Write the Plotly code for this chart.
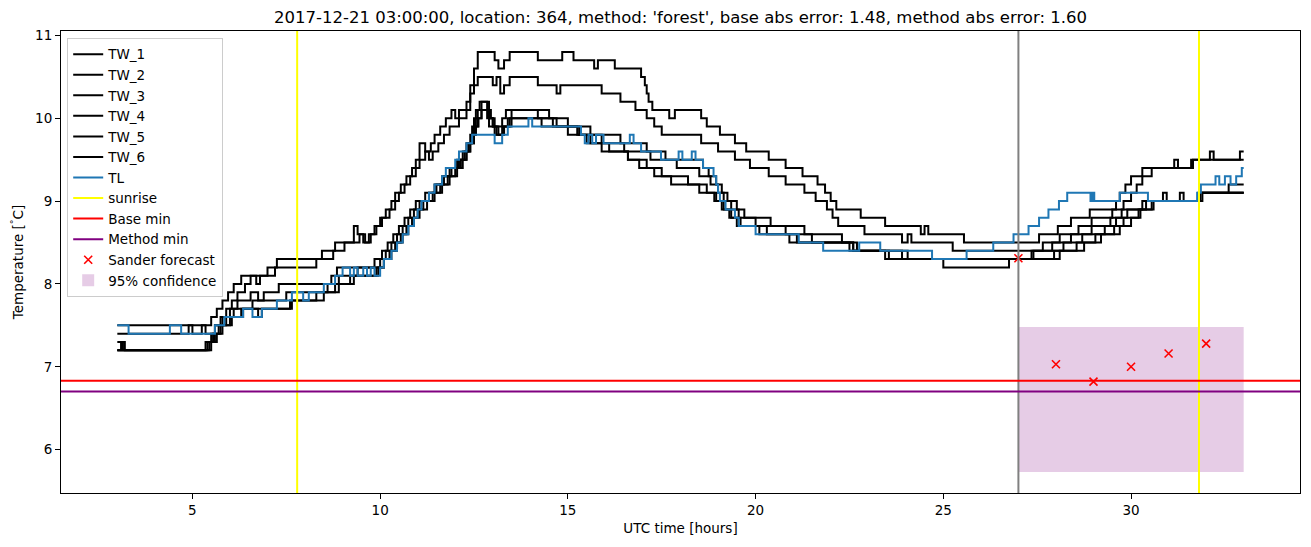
import plotly.graph_objects as go

TITLE = "2017-12-21 03:00:00, location: 364, method: 'forest', base abs error: 1.48, method abs error: 1.60"

# (hour, temperature) change points of each series, drawn as steps
tw_1 = [(3.0,7.5),(5.5,7.6),(5.65,7.7),(5.8,7.8),(5.95,7.9),(6.1,8.0),(6.3,8.1),(6.7,8.0),(6.8,8.1),(7.0,8.2),(7.25,8.3),(8.45,8.4),(8.8,8.5),(9.3,8.7),(9.4,8.6),(9.55,8.5),(9.7,8.6),(9.85,8.7),(10.0,8.8),(10.15,8.9),(10.3,9.0),(10.4,9.1),(10.55,9.2),(10.7,9.3),(10.85,9.4),(10.95,9.5),(11.05,9.7),(11.2,9.6),(11.35,9.7),(11.45,9.8),(11.6,9.9),(11.75,10.0),(11.9,10.1),(12.0,10.0),(12.1,10.1),(12.3,10.2),(12.4,10.4),(12.5,10.6),(12.6,10.8),(13.05,10.7),(13.15,10.6),(13.3,10.7),(13.45,10.8),(14.2,10.7),(14.85,10.8),(15.15,10.7),(15.7,10.6),(15.8,10.7),(16.25,10.6),(16.95,10.5),(17.05,10.4),(17.1,10.3),(17.15,10.2),(17.25,10.1),(17.7,10.0),(17.85,10.1),(18.55,10.0),(18.7,9.9),(19.05,9.8),(19.45,9.7),(19.75,9.6),(20.35,9.5),(20.8,9.4),(21.25,9.3),(21.65,9.2),(21.85,9.1),(22.0,9.0),(22.15,8.9),(22.8,8.8),(23.45,8.7),(24.4,8.6),(24.5,8.7),(24.6,8.6),(25.55,8.5),(27.55,8.6),(28.05,8.7),(28.4,8.8),(28.9,8.9),(29.6,9.0),(29.7,9.1),(29.85,9.2),(30.0,9.3),(30.3,9.4),(31.15,9.5),(31.25,9.4),(31.6,9.5),(32.1,9.6),(32.2,9.5),(32.9,9.6),(33.0,9.6)]
tw_2 = [(3.0,7.4),(4.9,7.5),(5.0,7.4),(5.25,7.5),(5.35,7.4),(5.6,7.5),(5.75,7.6),(5.9,7.7),(6.05,7.8),(6.2,7.9),(6.4,8.0),(6.55,8.1),(7.2,8.2),(8.3,8.3),(8.75,8.4),(9.05,8.5),(9.45,8.6),(9.6,8.5),(9.75,8.6),(9.9,8.7),(10.05,8.8),(10.25,8.9),(10.4,9.0),(10.5,9.1),(10.65,9.2),(10.8,9.3),(10.95,9.4),(11.05,9.5),(11.2,9.6),(11.3,9.5),(11.4,9.6),(11.55,9.7),(11.7,9.8),(11.85,9.9),(12.1,10.0),(12.3,10.1),(12.4,10.3),(12.5,10.4),(12.6,10.5),(13.0,10.4),(13.1,10.5),(13.2,10.3),(13.3,10.4),(13.45,10.5),(14.2,10.4),(14.7,10.3),(14.8,10.4),(15.9,10.3),(16.4,10.2),(16.8,10.1),(17.1,10.0),(17.3,9.9),(17.5,9.8),(18.55,9.7),(19.0,9.6),(19.45,9.5),(19.85,9.4),(20.35,9.3),(20.8,9.2),(21.3,9.1),(21.6,9.0),(21.9,8.9),(22.05,8.8),(22.2,8.7),(22.9,8.6),(23.9,8.5),(24.05,8.6),(24.15,8.5),(25.25,8.4),(27.65,8.5),(28.1,8.6),(28.6,8.7),(28.95,8.8),(29.5,8.9),(29.8,9.0),(30.0,9.1),(30.15,9.2),(30.3,9.3),(30.55,9.4),(31.65,9.5),(33.0,9.5)]
tw_3 = [(3.0,7.3),(3.15,7.2),(5.35,7.3),(5.5,7.4),(5.6,7.5),(5.8,7.6),(6.0,7.7),(6.2,7.8),(6.55,7.9),(6.75,7.8),(6.9,7.9),(7.3,8.0),(8.7,8.1),(8.85,8.2),(9.85,8.3),(10.05,8.4),(10.2,8.5),(10.35,8.6),(10.5,8.7),(10.65,8.8),(10.8,8.9),(10.95,9.0),(11.2,9.1),(11.45,9.2),(11.65,9.3),(11.85,9.4),(12.05,9.5),(12.2,9.6),(12.3,9.7),(12.4,9.8),(12.45,9.9),(12.5,10.0),(12.55,10.1),(12.65,10.2),(12.85,10.1),(12.95,10.0),(13.05,9.9),(13.25,10.0),(13.35,10.1),(14.5,10.0),(15.0,9.9),(15.6,9.8),(16.4,9.7),(17.1,9.6),(17.6,9.5),(18.6,9.4),(18.75,9.3),(18.95,9.2),(19.1,9.1),(19.25,9.0),(19.5,8.9),(19.7,8.8),(20.4,8.7),(21.3,8.6),(22.3,8.5),(22.7,8.4),(23.55,8.3),(27.35,8.4),(27.9,8.5),(28.4,8.6),(28.95,8.7),(29.45,8.8),(29.75,8.9),(30.3,9.0),(30.85,9.1),(30.95,9.0),(31.8,9.1),(33.0,9.1)]
tw_4 = [(3.0,7.2),(3.1,7.3),(3.2,7.2),(5.4,7.3),(5.55,7.4),(5.7,7.5),(5.9,7.6),(6.1,7.7),(6.6,7.8),(7.5,7.9),(8.6,8.0),(8.9,8.1),(9.4,8.2),(10.0,8.3),(10.15,8.4),(10.3,8.5),(10.45,8.6),(10.6,8.7),(10.75,8.8),(10.9,8.9),(11.05,9.0),(11.3,9.1),(11.5,9.2),(11.7,9.3),(11.9,9.4),(12.1,9.5),(12.25,9.6),(12.35,9.7),(12.45,9.8),(12.5,9.9),(12.55,10.0),(12.6,10.1),(12.7,10.2),(12.9,10.0),(13.0,9.9),(13.1,9.8),(13.3,9.9),(13.4,10.0),(13.5,10.1),(14.2,10.0),(14.7,9.9),(15.3,9.8),(15.9,9.7),(16.5,9.6),(17.2,9.5),(17.9,9.4),(18.5,9.3),(18.8,9.2),(19.0,9.1),(19.15,9.0),(19.35,8.9),(19.55,8.8),(20.0,8.7),(20.8,8.6),(21.5,8.5),(22.6,8.4),(23.45,8.3),(27.4,8.4),(28.2,8.5),(28.7,8.6),(29.3,8.7),(29.6,8.8),(29.9,8.9),(30.4,9.0),(31.3,9.1),(31.4,9.0),(31.85,9.1),(32.6,9.2),(33.0,9.2)]
tw_5 = [(3.0,7.2),(5.45,7.3),(5.6,7.4),(5.75,7.5),(6.0,7.6),(6.3,7.7),(6.75,7.6),(6.85,7.7),(7.6,7.8),(8.3,7.9),(8.9,8.0),(9.2,8.1),(9.9,8.2),(10.1,8.3),(10.25,8.4),(10.4,8.5),(10.55,8.6),(10.7,8.7),(10.85,8.8),(11.0,8.9),(11.15,9.0),(11.4,9.1),(11.6,9.2),(11.8,9.3),(12.0,9.4),(12.15,9.5),(12.3,9.6),(12.4,9.7),(12.5,9.8),(12.55,9.9),(12.6,10.0),(12.7,10.1),(12.9,9.9),(13.05,9.8),(13.25,9.9),(13.45,10.0),(14.3,9.9),(15.0,9.8),(15.5,9.7),(15.9,9.6),(16.6,9.5),(17.1,9.4),(17.5,9.3),(18.2,9.2),(18.7,9.1),(18.95,9.0),(19.15,8.9),(19.35,8.8),(19.6,8.7),(20.3,8.6),(21.1,8.5),(22.6,8.4),(23.9,8.3),(25.0,8.2),(26.75,8.3),(27.95,8.4),(28.55,8.5),(29.05,8.6),(29.55,8.7),(29.8,8.8),(30.2,8.9),(30.55,9.0),(31.8,9.1),(33.0,9.1)]
tw_6 = [(3.0,7.2),(5.5,7.3),(5.65,7.4),(5.8,7.5),(6.05,7.6),(6.35,7.7),(7.65,7.8),(8.5,7.9),(8.8,8.0),(9.3,8.1),(9.95,8.2),(10.1,8.3),(10.3,8.4),(10.45,8.5),(10.6,8.6),(10.75,8.7),(10.9,8.8),(11.05,8.9),(11.25,9.0),(11.45,9.1),(11.65,9.2),(11.85,9.3),(12.05,9.4),(12.2,9.5),(12.3,9.6),(12.4,9.7),(12.5,9.8),(12.55,9.9),(12.62,10.0),(12.7,10.1),(12.85,10.0),(13.0,9.9),(13.15,9.8),(13.3,9.9),(13.5,10.0),(14.6,9.9),(15.25,9.8),(15.6,9.7),(16.1,9.6),(16.6,9.5),(16.9,9.4),(17.3,9.3),(17.75,9.2),(18.5,9.1),(18.9,9.0),(19.1,8.9),(19.3,8.8),(19.5,8.7),(20.1,8.6),(20.9,8.5),(22.5,8.4),(24.05,8.3),(28.1,8.4),(28.75,8.5),(29.2,8.6),(29.7,8.7),(30.0,8.8),(30.25,8.9),(30.6,9.0),(31.9,9.1),(33.0,9.1)]
tl = [(3.0,7.5),(3.3,7.4),(4.4,7.5),(4.7,7.4),(5.6,7.5),(5.85,7.6),(6.35,7.7),(6.6,7.6),(6.85,7.7),(7.25,7.8),(7.65,7.9),(7.95,7.8),(8.1,7.9),(8.5,8.0),(8.8,8.1),(9.0,8.2),(9.2,8.1),(9.3,8.2),(9.4,8.1),(9.55,8.2),(9.65,8.1),(9.75,8.2),(9.85,8.1),(10.0,8.2),(10.1,8.3),(10.3,8.4),(10.45,8.5),(10.6,8.6),(10.75,8.7),(10.9,8.8),(11.0,8.9),(11.1,9.0),(11.3,9.1),(11.45,9.2),(11.65,9.3),(11.75,9.4),(12.0,9.5),(12.1,9.6),(12.3,9.7),(12.45,9.8),(13.05,9.7),(13.25,9.8),(13.4,9.9),(13.95,10.0),(14.05,9.9),(15.35,9.8),(15.45,9.7),(15.55,9.8),(15.65,9.7),(15.75,9.8),(15.95,9.7),(16.65,9.8),(16.75,9.7),(16.95,9.6),(17.48,9.5),(17.95,9.6),(18.05,9.5),(18.3,9.6),(18.4,9.5),(18.6,9.4),(18.88,9.3),(18.95,9.2),(19.0,9.1),(19.05,9.0),(19.2,8.9),(19.45,8.8),(19.55,8.7),(20.0,8.6),(21.15,8.5),(21.8,8.4),(22.76,8.5),(23.32,8.4),(24.7,8.3),(25.62,8.4),(26.33,8.5),(26.87,8.6),(27.27,8.7),(27.55,8.8),(27.8,8.9),(28.08,9.0),(28.3,9.1),(28.92,9.0),(28.97,9.1),(29.02,9.0),(29.7,9.1),(30.45,9.0),(31.76,9.1),(31.86,9.2),(32.25,9.3),(32.35,9.2),(32.5,9.3),(32.65,9.2),(32.8,9.3),(32.95,9.4),(33.0,9.4)]

sunrise_hours = [7.79, 31.81]
forecast_hour = 27.0
base_min = 6.83
method_min = 6.70
sander_hours = [27, 28, 29, 30, 31, 32]
sander_values = [8.31, 7.03, 6.82, 7.00, 7.16, 7.28]
conf_hours = [27.0, 33.0]
conf_bounds = [5.73, 7.48]

FONT = "DejaVu Sans"
fig = go.Figure()

series = [("TW_1", tw_1, "black"), ("TW_2", tw_2, "black"), ("TW_3", tw_3, "black"),
          ("TW_4", tw_4, "black"), ("TW_5", tw_5, "black"), ("TW_6", tw_6, "black"),
          ("TL", tl, "#1f77b4")]
for rank, (name, pts, col) in enumerate(series, start=1):
    fig.add_trace(go.Scatter(
        x=[p[0] for p in pts], y=[p[1] for p in pts], name=name, mode="lines",
        line=dict(color=col, width=2, shape="hv"), legendrank=rank))

fig.add_trace(go.Scatter(
    x=sander_hours, y=sander_values, mode="markers", name="Sander forecast",
    marker=dict(symbol="x-thin", size=8, color="red", line=dict(color="red", width=1.6)),
    legendrank=11))

# confidence rectangle
fig.add_shape(type="rect", xref="x", yref="y", x0=conf_hours[0], x1=conf_hours[1],
              y0=conf_bounds[0], y1=conf_bounds[1], fillcolor="rgba(128,0,128,0.2)",
              line=dict(width=0), layer="below", showlegend=True,
              name="95% confidence", legendrank=12)
for i, h in enumerate(sunrise_hours):
    fig.add_shape(type="line", xref="x", yref="paper", x0=h, x1=h, y0=0, y1=1,
                  line=dict(color="yellow", width=2), layer="above",
                  showlegend=(i == 0), name="sunrise", legendrank=8)
fig.add_shape(type="line", xref="x", yref="paper", x0=forecast_hour, x1=forecast_hour,
              y0=0, y1=1, line=dict(color="gray", width=2), layer="above")
fig.add_shape(type="line", xref="paper", yref="y", x0=0, x1=1, y0=base_min, y1=base_min,
              line=dict(color="red", width=2), layer="above", showlegend=True,
              name="Base min", legendrank=9)
fig.add_shape(type="line", xref="paper", yref="y", x0=0, x1=1, y0=method_min, y1=method_min,
              line=dict(color="purple", width=2), layer="above", showlegend=True,
              name="Method min", legendrank=10)

axis_common = dict(showline=True, linecolor="black", linewidth=1, mirror=True,
                   ticks="outside", ticklen=5, tickcolor="black", showgrid=False,
                   zeroline=False, tickfont=dict(family=FONT, size=13.5, color="black"))
fig.update_layout(
    width=1311, height=547,
    margin=dict(l=61, r=11, t=31, b=54),
    plot_bgcolor="white", paper_bgcolor="white",
    font=dict(family=FONT, color="black"),
    title=dict(text=TITLE, x=0.5, xref="paper", xanchor="center", y=0.969, yanchor="middle",
               font=dict(family=FONT, size=16.5, color="black")),
    xaxis=dict(range=[1.5, 34.5], tickvals=[5, 10, 15, 20, 25, 30],
               title=dict(text="UTC time [hours]", font=dict(family=FONT, size=13.5), standoff=6),
               **axis_common),
    yaxis=dict(range=[5.476, 11.054], tickvals=[6, 7, 8, 9, 10, 11],
               title=dict(text="Temperature [<sup>°</sup>C]", font=dict(family=FONT, size=13.5), standoff=8),
               **axis_common),
    legend=dict(x=0.005, y=0.985, xanchor="left", yanchor="top",
                bgcolor="rgba(255,255,255,0.8)", bordercolor="#cccccc", borderwidth=1,
                font=dict(family=FONT, size=13.5, color="black"), itemwidth=30,
                tracegroupgap=0),
    showlegend=True,
)

fig.write_html("out.html")
